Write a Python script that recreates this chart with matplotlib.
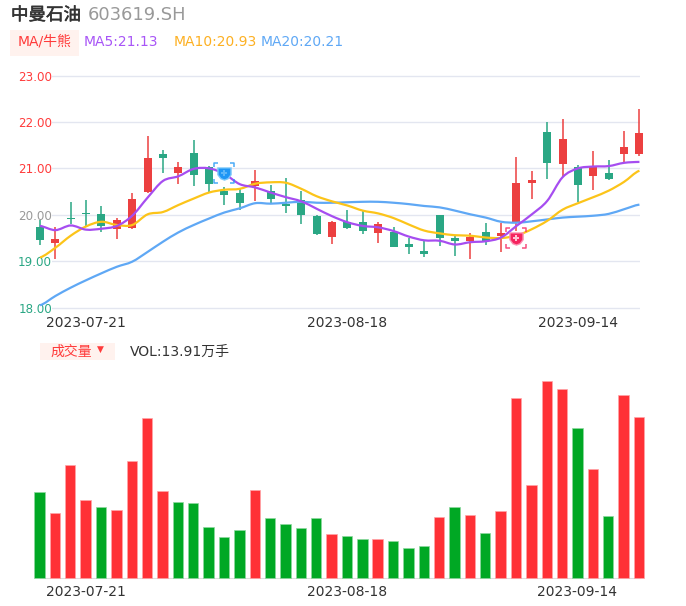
import matplotlib
matplotlib.use("Agg")
import matplotlib.pyplot as plt
import matplotlib.patches as mpatches
import matplotlib.patheffects as pe
import numpy as np
from matplotlib.path import Path

plt.rcParams["font.family"] = ["DejaVu Sans", "Noto Sans CJK SC"]

W, H = 686, 606

# ── Data ───────────────────────────────────────────────────────────────────
body_top = [19.74, 19.47, 19.94, 20.04, 20.01, 19.88, 20.34, 21.22, 21.30, 21.04,
            21.33, 21.02, 20.52, 20.47, 20.72, 20.51, 20.24, 20.32, 19.97, 19.85,
            19.84, 19.84, 19.81, 19.63, 19.37, 19.22, 20.00, 19.51, 19.53, 19.63,
            19.60, 20.69, 20.76, 21.79, 21.63, 21.02, 21.02, 20.91, 21.47, 21.77]
body_bot = [19.46, 19.39, 19.91, 20.01, 19.75, 19.69, 19.71, 20.50, 21.22, 20.91,
            20.86, 20.67, 20.42, 20.25, 20.62, 20.33, 20.19, 19.99, 19.58, 19.53,
            19.71, 19.65, 19.61, 19.31, 19.31, 19.15, 19.50, 19.44, 19.44, 19.44,
            19.55, 19.83, 20.68, 21.12, 21.10, 20.65, 20.84, 20.77, 21.31, 21.31]
high = [19.88, 19.73, 20.27, 20.32, 20.18, 19.94, 20.47, 21.69, 21.40, 21.14,
        21.61, 21.06, 20.60, 20.55, 20.96, 20.64, 20.79, 20.51, 20.00, 19.87,
        20.10, 20.11, 19.84, 19.73, 19.49, 19.46, 20.00, 19.55, 19.60, 19.82,
        19.82, 21.24, 20.94, 21.99, 22.06, 21.07, 21.37, 21.18, 21.81, 22.29]
low = [19.35, 19.04, 19.80, 19.75, 19.64, 19.47, 19.69, 20.48, 20.90, 20.66,
       20.61, 20.50, 20.21, 20.11, 20.30, 20.26, 20.03, 19.81, 19.57, 19.37,
       19.69, 19.59, 19.40, 19.30, 19.15, 19.09, 19.33, 19.12, 19.04, 19.35,
       19.19, 19.65, 20.34, 20.78, 20.82, 20.28, 20.54, 20.75, 21.13, 21.27]
candle_up = [0, 1, 0, 0, 0, 1, 1, 1, 0, 1,
             0, 0, 0, 0, 1, 0, 0, 0, 0, 1,
             0, 0, 1, 0, 0, 0, 0, 0, 1, 0,
             1, 1, 1, 0, 1, 0, 1, 0, 1, 1]

ma5 = [19.76, 19.67, 19.77, 19.68, 19.70, 19.76, 19.98, 20.37, 20.73, 20.83,
       20.99, 21.00, 20.88, 20.66, 20.59, 20.48, 20.38, 20.29, 20.13, 19.97,
       19.84, 19.76, 19.73, 19.65, 19.53, 19.45, 19.44, 19.36, 19.41, 19.43,
       19.51, 19.76, 20.01, 20.30, 20.81, 21.00, 21.04, 21.05, 21.12, 21.14]
ma10 = [19.08, 19.29, 19.55, 19.75, 19.85, 19.78, 19.78, 20.01, 20.06, 20.21,
        20.35, 20.48, 20.54, 20.56, 20.67, 20.70, 20.69, 20.56, 20.40, 20.29,
        20.20, 20.09, 20.03, 19.93, 19.79, 19.66, 19.60, 19.56, 19.55, 19.51,
        19.50, 19.55, 19.69, 19.87, 20.11, 20.25, 20.38, 20.52, 20.71, 20.95]
ma20 = [18.05, 18.25, 18.43, 18.59, 18.74, 18.88, 18.99, 19.20, 19.42, 19.62,
        19.78, 19.92, 20.05, 20.14, 20.25, 20.24, 20.26, 20.28, 20.26, 20.26,
        20.27, 20.28, 20.28, 20.26, 20.23, 20.19, 20.16, 20.09, 20.01, 19.94,
        19.85, 19.83, 19.86, 19.90, 19.94, 19.96, 19.98, 20.02, 20.12, 20.22]

volume = [7.44, 5.66, 9.80, 6.78, 6.18, 5.89, 10.15, 13.80, 7.56, 6.58,
          6.47, 4.40, 3.54, 4.20, 7.59, 5.17, 4.71, 4.34, 5.20, 3.82,
          3.65, 3.36, 3.42, 3.19, 2.59, 2.79, 5.29, 6.15, 5.43, 3.94,
          5.81, 15.52, 8.08, 16.99, 16.33, 12.93, 9.40, 5.35, 15.78, 13.91]
vol_up = [0, 1, 1, 1, 0, 1, 1, 1, 1, 0,
          0, 0, 0, 0, 1, 0, 0, 0, 0, 1,
          0, 0, 1, 0, 0, 0, 1, 0, 1, 0,
          1, 1, 1, 1, 1, 0, 1, 0, 1, 1]

price_ticks = [18, 19, 20, 21, 22, 23]
price_colors = ["#2aa784", "#2aa784", "#999999", "#ff3b3b", "#ff3b3b", "#ff3b3b"]
date_pos = [3, 20, 35]
date_labels = ["2023-07-21", "2023-08-18", "2023-09-14"]

# ── Pixel layout helpers ───────────────────────────────────────────────────
X0, STEP = 40.0, 15.37   # pixel of candle 0, pixels per candle
PPU = 46.4               # pixels per price unit

# shield outline used for the two signal icons
SHIELD = Path([(-1, 0.85), (1, 0.85), (1, -0.2), (0.55, -0.8), (0, -1), (-0.55, -0.8),
               (-1, -0.2), (-1, 0.85)], closed=True)


def px_axes(left, top, right, bottom):
    return fig.add_axes([left / W, 1 - bottom / H, (right - left) / W, (bottom - top) / H])


def smooth(ax, y, color):
    # catmull-rom through the read values, like the source's smoothed lines
    y = np.array(y)
    x = np.arange(len(y), dtype=float)
    verts = [(x[0], y[0])]
    codes = [Path.MOVETO]
    for i in range(len(y) - 1):
        m0 = (y[i + 1] - y[max(i - 1, 0)]) / 6
        m1 = (y[min(i + 2, len(y) - 1)] - y[i]) / 6
        verts += [(x[i] + 1 / 3, y[i] + m0), (x[i] + 2 / 3, y[i + 1] - m1), (x[i + 1], y[i + 1])]
        codes += [Path.CURVE4] * 3
    ax.add_patch(mpatches.PathPatch(Path(verts, codes), fill=False, edgecolor=color,
                                    linewidth=1.6, clip_on=False, zorder=4))


def badge(ax, i, price, color, light, inner):
    # shield icon with four corner brackets
    ax.scatter([i], [price], s=110, color=light, marker=SHIELD, zorder=6, clip_on=False, linewidths=0)
    ax.scatter([i], [price], s=70, color=color, marker=SHIELD, zorder=7, clip_on=False, linewidths=0)
    ax.scatter([i], [price], s=14, color=inner, marker="P", zorder=8, clip_on=False, linewidths=0)
    r, a = 10 / STEP, 4 / STEP
    ry, ay = 10 / PPU, 4 / PPU
    for sx in (-1, 1):
        for sy in (-1, 1):
            ax.plot([i + sx * (r - a), i + sx * r, i + sx * r],
                    [price + sy * ry, price + sy * ry, price + sy * (ry - ay)],
                    color=color, alpha=0.8, lw=1.1, zorder=7, clip_on=False, solid_capstyle="butt")


# ── Figure ─────────────────────────────────────────────────────────────────
fig = plt.figure(figsize=(W / 100, H / 100), dpi=100, facecolor="white")

# Price panel
ax = px_axes(52, 60, 640, 316)
ax.set_xlim((52 - X0) / STEP, (640 - X0) / STEP)
ax.set_ylim(23 - (316 - 75.6) / PPU, 23 + 15.6 / PPU)
for s in ax.spines.values():
    s.set_visible(False)
ax.set_yticks(price_ticks)
ax.set_yticklabels([f"{p:.2f}" for p in price_ticks], fontsize=8.6)
for lab, c in zip(ax.get_yticklabels(), price_colors):
    lab.set_color(c)
    lab.set_va("center_baseline")
ax.set_xticks(date_pos)
ax.set_xticklabels(date_labels, fontsize=10, color="#333333")
ax.tick_params(length=0, pad=0)
ax.grid(axis="y", color="#e3e6f0", linewidth=1)
ax.set_axisbelow(True)

for i in range(len(body_top)):
    c = "#ec4040" if candle_up[i] else "#2aa784"
    ax.vlines(i, low[i], high[i], color=c, linewidth=1.1, zorder=2, clip_on=False)
    ax.bar(i, body_top[i] - body_bot[i], bottom=body_bot[i], width=8 / STEP, color=c,
           zorder=3, clip_on=False)

smooth(ax, ma20, "#5fa8f5")
smooth(ax, ma10, "#fcc419")
smooth(ax, ma5, "#a64df0")

badge(ax, 12, 20.91, "#1e96f5", "#7cc8fa", "#5cb6f8")
badge(ax, 31, 19.49, "#f5245f", "#fb8fb0", "#ffc2d4")

# Volume panel
axv = px_axes(40, 370, 640, 578.3)
axv.set_xlim(0.03, 0.03 + 600 / STEP)
axv.set_ylim(0, (578.3 - 370) / 11.6)
vol_colors = ["#ff3136" if u else "#00a824" for u in vol_up]
vol_edges = ["#ffa5a8" if u else "#8ed8a0" for u in vol_up]
axv.bar(range(len(volume)), volume, width=10.4 / STEP, color=vol_colors, edgecolor=vol_edges,
        linewidth=0.5, clip_on=False, zorder=3)
for s in ["top", "left", "right"]:
    axv.spines[s].set_visible(False)
axv.spines["bottom"].set_color("#dddddd")
axv.set_yticks([])
axv.set_xticks(date_pos)
axv.set_xticklabels(date_labels, fontsize=10, color="#333333")
axv.tick_params(length=0, pad=5)


# ── Header texts, placed by pixel ──────────────────────────────────────────
def label(x, y, s, color, size, **kw):
    return fig.text(x / W, 1 - y / H, s, color=color, fontsize=size, va="center", **kw)


def box(left, top, right, bottom, color):
    fig.add_artist(mpatches.Rectangle((left / W, 1 - bottom / H), (right - left) / W,
                                      (bottom - top) / H, facecolor=color, edgecolor="none",
                                      transform=fig.transFigure))


title = label(11, 15, "中曼石油", "#333333", 12.6)
title.set_path_effects([pe.withStroke(linewidth=0.4, foreground="#333333")])
label(88, 15, "603619.SH", "#999999", 12.9)

box(10, 30, 79, 56, "#fff2ee")
label(18, 41.5, "MA/牛熊", "#ff3b3b", 10)
label(84, 41.5, "MA5:21.13", "#a855f7", 10)
label(174, 41.5, "MA10:20.93", "#fdb022", 10)
label(261, 41.5, "MA20:20.21", "#5fa8f5", 10)

box(40, 343, 115, 360, "#fff2ee")
label(50, 351.5, "成交量", "#ff3b3b", 10)
label(96.5, 349, "▼", "#ff3b3b", 6.5)
label(130, 351.5, "VOL:13.91万手", "#333333", 10)

plt.savefig("out.png", dpi=100, facecolor="white")
plt.close()
